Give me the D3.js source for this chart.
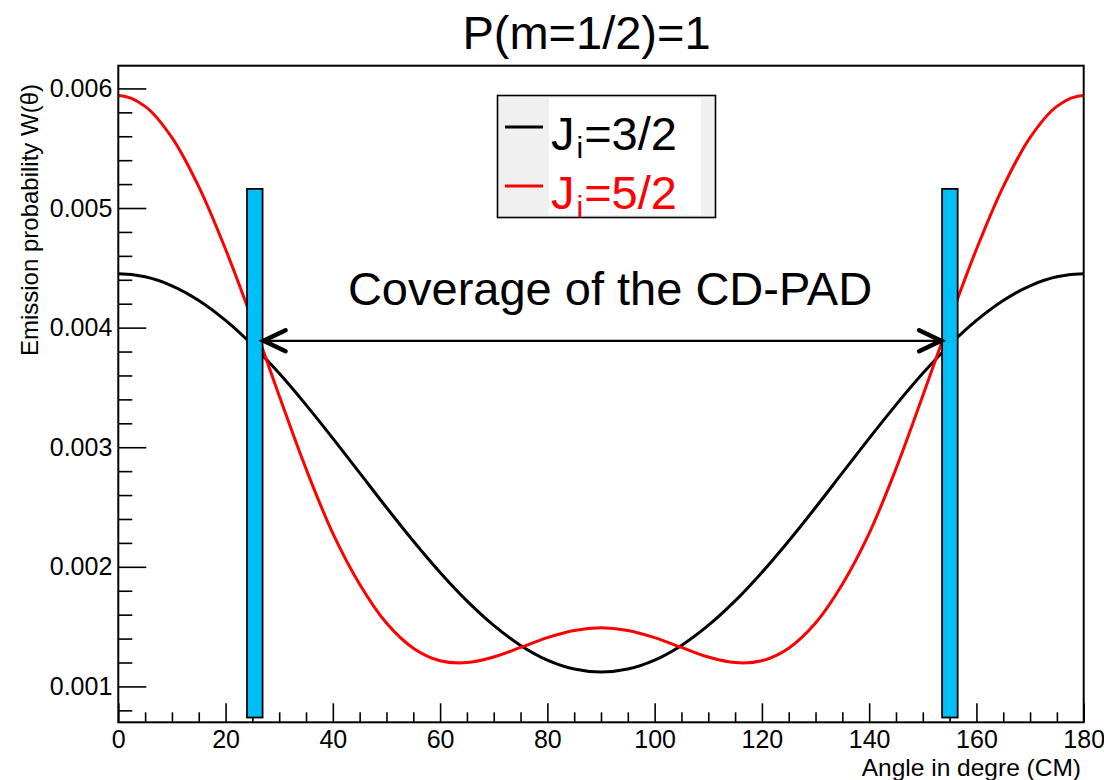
<!DOCTYPE html>
<html>
<head>
<meta charset="utf-8">
<script src="https://cdn.jsdelivr.net/npm/d3@7"></script>
<style>
  html, body { margin: 0; padding: 0; background: #fff; }
  svg { display: block; font-family: "Liberation Sans", Arial, Helvetica, sans-serif; }
</style>
</head>
<body>
<svg id="chart" width="1104" height="780"></svg>
<script>
// ---- data (the curves are symmetric about 90 deg;
//      one sample is kept just outside each end so the spline leaves the edges flat) ----
const angles = [-5,0,5,10,15,20,25,30,35,40,45,50,55,60,65,70,75,80,85,90,
                95,100,105,110,115,120,125,130,135,140,145,150,155,160,165,170,175,180,185];
const wJ32 = [0.004425,0.00445,0.004425,0.00435,0.004227,0.00406,0.003855,0.003618,0.003354,0.003074,0.002785,
              0.002496,0.002216,0.001953,0.001715,0.00151,0.001343,0.00122,0.001145,0.00112,
              0.001145,0.00122,0.001343,0.00151,0.001715,0.001953,0.002216,0.002496,0.002785,
              0.003074,0.003354,0.003618,0.003855,0.00406,0.004227,0.00435,0.004425,0.00445,0.004425];
const wJ52 = [0.00585,0.00594,0.00585,0.005589,0.005179,0.004655,0.00406,0.00343,0.00282,0.00228,0.001855,
              0.00153,0.00132,0.001215,0.001199,0.001246,0.001326,0.001408,0.001468,0.00149,
              0.001468,0.001408,0.001326,0.001246,0.001199,0.001215,0.00132,0.00153,0.001855,
              0.00228,0.00282,0.00343,0.00406,0.004655,0.005179,0.005589,0.00585,0.00594,0.00585];
const seriesNames = ["J", "J"];
const seriesSubs = ["i", "i"];
const seriesRest = ["=3/2", "=5/2"];
const coverageStart = [24, 153.6];
const coverageEnd = [26.9, 156.5];
const coverageLow = 0.00074;
const coverageHigh = 0.00516;
const arrowLevel = 0.00389;
const xTicks = [0,20,40,60,80,100,120,140,160,180];
const yTicks = [0.001,0.002,0.003,0.004,0.005,0.006];
const titleText = "P(m=1/2)=1";
const xLabel = "Angle in degre (CM)";
const yLabel = "Emission probability W(\u03B8)";
const coverageLabel = "Coverage of the CD-PAD";

// ---- layout ----
const svg = d3.select("#chart");
const L = 118.3, R = 1083.7, T = 65.7, B = 722.3;
const x = d3.scaleLinear().domain([0, 180]).range([L, R]);
const y = d3.scaleLinear().domain([0.0007, 0.00619]).range([B, T]);

svg.append("rect").attr("width", 1104).attr("height", 780).attr("fill", "#fff");
svg.append("defs").append("clipPath").attr("id", "plotclip")
   .append("rect").attr("x", L).attr("y", T).attr("width", R - L).attr("height", B - T);

// minor ticks
const xMinor = d3.range(0, 181, 5).filter(v => v % 20 !== 0);
const yMinor = d3.range(0.0008, 0.00619, 0.0002).filter(v => Math.abs(v*1000 - Math.round(v*1000)) > 1e-6);

const gx = svg.append("g").attr("transform", `translate(0,${B})`);
gx.call(d3.axisBottom(x).tickValues(xTicks).tickSize(-19).tickPadding(8).tickFormat(d3.format("d")));
gx.append("g").call(d3.axisBottom(x).tickValues(xMinor).tickSize(-10).tickFormat(""));
const gy = svg.append("g").attr("transform", `translate(${L},0)`);
gy.call(d3.axisLeft(y).tickValues(yTicks).tickSize(-28).tickPadding(6).tickFormat(d3.format(".3f")));
gy.append("g").call(d3.axisLeft(y).tickValues(yMinor).tickSize(-14).tickFormat(""));
svg.selectAll(".domain").remove();
svg.selectAll(".tick line").attr("stroke", "#000").attr("stroke-width", 1.6);
svg.selectAll(".tick text").attr("font-size", 25).attr("fill", "#000")
   .attr("font-family", "'Liberation Sans', Arial, sans-serif");

// curves
const line = d3.line().x((d, i) => x(angles[i])).y(d => y(d)).curve(d3.curveCatmullRom);
const curves = svg.append("g").attr("clip-path", "url(#plotclip)");
curves.append("path").datum(wJ32).attr("d", line).attr("fill", "none")
   .attr("stroke", "#000").attr("stroke-width", 3);
curves.append("path").datum(wJ52).attr("d", line).attr("fill", "none")
   .attr("stroke", "#ff0000").attr("stroke-width", 3);

// coverage bars
svg.selectAll("rect.cov").data(coverageStart).enter().append("rect")
   .attr("class", "cov")
   .attr("x", d => x(d))
   .attr("width", (d, i) => x(coverageEnd[i]) - x(d))
   .attr("y", y(coverageHigh))
   .attr("height", y(coverageLow) - y(coverageHigh))
   .attr("fill", "#00bff8").attr("stroke", "#000").attr("stroke-width", 1.8);

// arrow
const ax1 = x(coverageEnd[0]) + 1, ax2 = x(coverageStart[1]) - 1, ay = y(arrowLevel);
svg.append("line").attr("x1", ax1).attr("x2", ax2).attr("y1", ay).attr("y2", ay)
   .attr("stroke", "#000").attr("stroke-width", 2.2);
const head = (tx, dir) => `M${tx + dir*22},${ay - 10.5} L${tx},${ay} L${tx + dir*22},${ay + 10.5}`;
svg.append("path").attr("d", head(ax1, 1)).attr("fill", "none").attr("stroke", "#000")
   .attr("stroke-width", 4.5).attr("stroke-linecap", "round").attr("stroke-linejoin", "miter");
svg.append("path").attr("d", head(ax2, -1)).attr("fill", "none").attr("stroke", "#000")
   .attr("stroke-width", 4.5).attr("stroke-linecap", "round").attr("stroke-linejoin", "miter");

svg.append("text").attr("x", 610).attr("y", 305).attr("text-anchor", "middle")
   .attr("font-size", 47).attr("fill", "#000").text(coverageLabel);

// frame
svg.append("rect").attr("x", L).attr("y", T).attr("width", R - L).attr("height", B - T)
   .attr("fill", "none").attr("stroke", "#000").attr("stroke-width", 2);

// legend
const lg = svg.append("g");
lg.append("rect").attr("x", 497.5).attr("y", 95.5).attr("width", 218).attr("height", 122)
  .attr("fill", "#f0f0f0").attr("stroke", "#000").attr("stroke-width", 1.6);
lg.append("rect").attr("x", 549).attr("y", 98).attr("width", 152).attr("height", 117).attr("fill", "#fff");
const legColors = ["#000", "#ff0000"];
const legY = [127, 186];
seriesNames.forEach((n, i) => {
  lg.append("line").attr("x1", 505).attr("x2", 543).attr("y1", legY[i]).attr("y2", legY[i])
    .attr("stroke", legColors[i]).attr("stroke-width", 3);
  const t = lg.append("text").attr("x", 551).attr("y", legY[i] + 23).attr("font-size", 47)
    .attr("fill", legColors[i]);
  t.append("tspan").text(n);
  t.append("tspan").attr("font-size", 30).attr("dx", 2).attr("dy", 8).text(seriesSubs[i]);
  t.append("tspan").attr("dx", 1).attr("dy", -8).text(seriesRest[i]);
});

// titles
svg.append("text").attr("x", 586.5).attr("y", 49).attr("text-anchor", "middle")
   .attr("font-size", 47).attr("fill", "#000").text(titleText);
svg.append("text").attr("x", 1081).attr("y", 776).attr("text-anchor", "end")
   .attr("font-size", 24.5).attr("fill", "#000").text(xLabel);
svg.append("text").attr("transform", "translate(38,84) rotate(-90)").attr("text-anchor", "end")
   .attr("font-size", 24).attr("fill", "#000").text(yLabel);
</script>
</body>
</html>
